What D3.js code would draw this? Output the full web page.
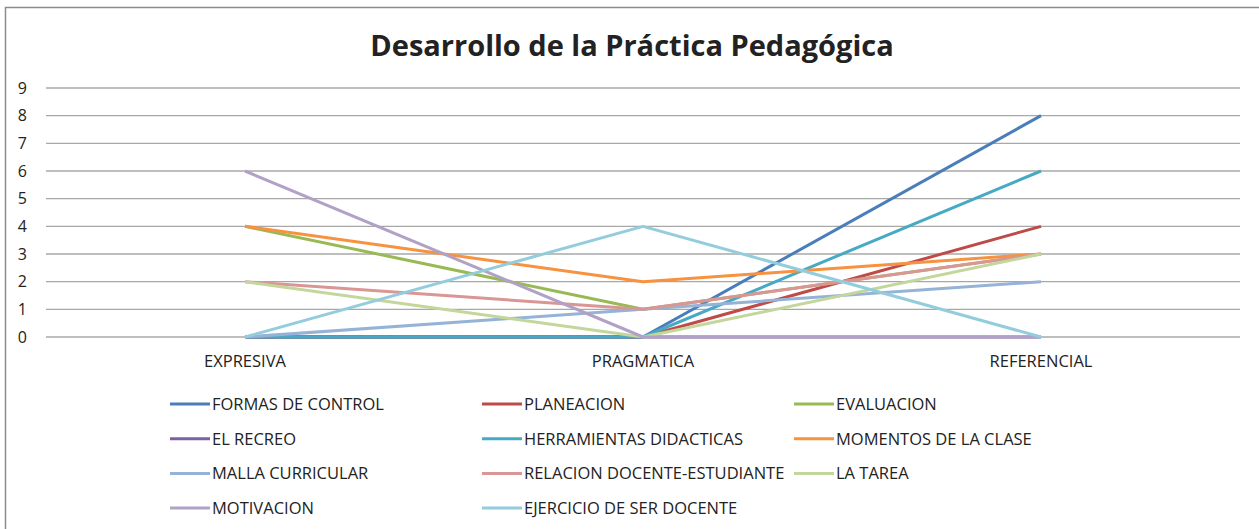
<!DOCTYPE html>
<html>
<head>
<script src="https://cdn.jsdelivr.net/npm/d3@7"></script>
<style>
  body { margin: 0; background: #fff; }
  text { font-family: "Open Sans", "DejaVu Sans", sans-serif; fill: #222; }
</style>
</head>
<body>
<div id="chart"></div>
<script>
// categories and series
let categories = ["EXPRESIVA", "PRAGMATICA", "REFERENCIAL"];
let seriesNames = ["FORMAS DE CONTROL", "PLANEACION", "EVALUACION", "EL RECREO",
  "HERRAMIENTAS DIDACTICAS", "MOMENTOS DE LA CLASE", "MALLA CURRICULAR",
  "RELACION DOCENTE-ESTUDIANTE", "LA TAREA", "MOTIVACION", "EJERCICIO DE SER DOCENTE"];
let formasDeControl = [0, 0, 8];
let planeacion = [0, 0, 4];
let evaluacion = [4, 1, 3];
let elRecreo = [0, 0, 0];
let herramientas = [0, 0, 6];
let momentos = [4, 2, 3];
let mallaCurricular = [0, 1, 2];
let relacion = [2, 1, 3];
let laTarea = [2, 0, 3];
let motivacion = [6, 0, 0];
let ejercicio = [0, 4, 0];
let seriesValues = [formasDeControl, planeacion, evaluacion, elRecreo, herramientas,
  momentos, mallaCurricular, relacion, laTarea, motivacion, ejercicio];
let colors = ["#4a7ebb", "#be4b48", "#98b954", "#7d60a0", "#46aac5", "#f69240",
  "#95b3d7", "#d99694", "#c3d69b", "#b2a1c7", "#93cddd"];
let yTicks = [0, 1, 2, 3, 4, 5, 6, 7, 8, 9];
let title = "Desarrollo de la Práctica Pedagógica";

let W = 1259, H = 529;
let plot = {left: 46, right: 1240, top: 88, bottom: 337};

let svg = d3.select("#chart").append("svg")
  .attr("width", W).attr("height", H);

// frame of the chart area
svg.append("rect")
  .attr("x", 5.5).attr("y", 7.5).attr("width", W + 10).attr("height", H + 10)
  .attr("fill", "none").attr("stroke", "#8c8c8c").attr("stroke-width", 1.5);

let x = d3.scaleBand().domain(categories).range([plot.left, plot.right]);
let y = d3.scaleLinear().domain([0, 9]).range([plot.bottom, plot.top]);

// gridlines
svg.append("g").selectAll("line").data(yTicks).enter().append("line")
  .attr("x1", plot.left).attr("x2", plot.right)
  .attr("y1", d => y(d)).attr("y2", d => y(d))
  .attr("stroke", "#a8a8a8").attr("stroke-width", 1.3);

// y labels
let yAxis = svg.append("g")
  .attr("transform", "translate(" + (plot.left - 19) + ",0)")
  .call(d3.axisLeft(y).tickValues(yTicks).tickSize(0).tickPadding(0));
yAxis.select(".domain").remove();
yAxis.selectAll("text").style("font-size", "16px").attr("fill", "#222")
  .style("font-family", "'Open Sans', sans-serif");

// x labels
let xAxis = svg.append("g")
  .attr("transform", "translate(0," + (plot.bottom + 18) + ")")
  .call(d3.axisBottom(x).tickSize(0).tickPadding(0));
xAxis.select(".domain").remove();
xAxis.selectAll("text").style("font-size", "16.5px").attr("fill", "#222")
  .attr("dy", "0.72em")
  .style("font-family", "'Open Sans', sans-serif");

// lines
let line = d3.line()
  .x((d, i) => x(categories[i]) + x.bandwidth() / 2)
  .y(d => y(d));
svg.append("g").selectAll("path").data(seriesValues).enter().append("path")
  .attr("d", d => line(d))
  .attr("fill", "none")
  .attr("stroke", (d, i) => colors[i])
  .attr("stroke-width", 3)
  .attr("stroke-linejoin", "round");

// title
svg.append("text")
  .attr("x", 632).attr("y", 56)
  .attr("text-anchor", "middle")
  .style("font-size", "29px").style("font-weight", "bold")
  .attr("fill", "#000")
  .text(title);

// legend
let legend = svg.append("g");
let items = legend.selectAll("g").data(seriesNames).enter().append("g")
  .attr("transform", (d, i) => "translate(" + (170 + (i % 3) * 312) + "," + (404 + Math.floor(i / 3) * 34.7) + ")");
items.append("line")
  .attr("x1", 0).attr("x2", 40)
  .attr("stroke", (d, i) => colors[i]).attr("stroke-width", 3);
items.append("text")
  .attr("x", 42).attr("dy", "0.36em")
  .style("font-size", "16.5px")
  .text(d => d);
</script>
</body>
</html>
